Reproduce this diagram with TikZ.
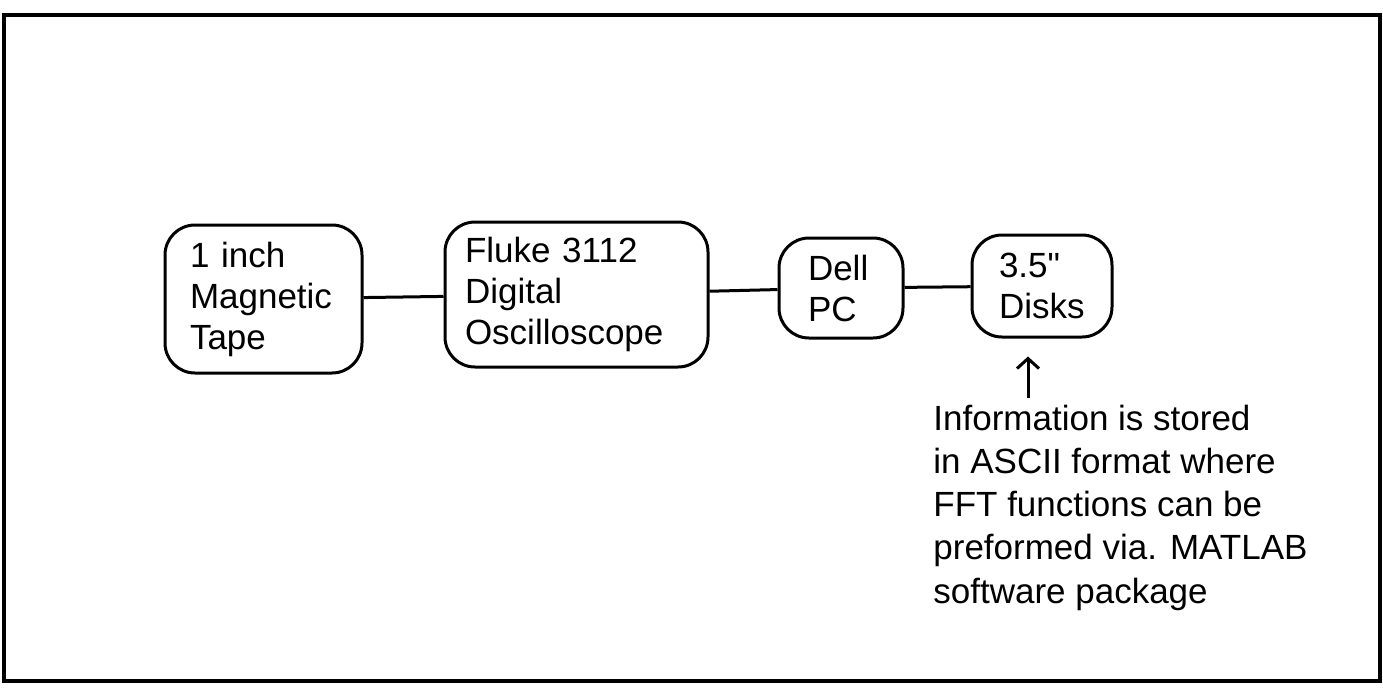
\documentclass[tikz,border=0pt]{standalone}
\usepackage{fontspec}
\setmainfont{Liberation Sans}
\newfontfamily\labelfont{Liberation Sans}
\usetikzlibrary{arrows.meta, positioning}

\begin{document}
\begin{tikzpicture}[
    x=0.5pt, y=-0.5pt,
    every node/.style={font=\labelfont\fontsize{17.5}{20.5}\selectfont},
    unit/.style={
        draw, line width=1.5pt, rounded corners=15pt,
        align=left, inner xsep=12.5pt, inner ysep=4pt
    },
    note/.style={
        align=left, inner sep=0pt, anchor=base west,
        font=\labelfont\fontsize{17.5}{21.6}\selectfont
    },
    link/.style={line width=1.5pt},
    pointer/.style={-{Straight Barb[length=5pt,width=11pt]}, line width=1.5pt, shorten >=9pt}
]
    \useasboundingbox (0,0) rectangle (1383,687);
    \draw[line width=1.8pt] (4,15) rectangle (1380,681);

    \node[unit, text width=73.5pt, minimum height=74pt] (tape) at (263.5,299) {1 inch\\Magnetic\\Tape};
    \node[unit, text width=111.5pt, inner xsep=10pt, minimum height=72.5pt,
        right=40pt of tape, yshift=2.25pt] (fluke) {Fluke 3112\\Digital\\Oscilloscope};
    \node[unit, text width=33pt, inner xsep=14.5pt, minimum height=50pt,
        right=34pt of fluke, yshift=3.25pt] (dell) {Dell\\PC};
    \node[unit, text width=43pt, inner xsep=13.5pt, minimum height=51pt,
        right=33pt of dell, yshift=1pt] (disks) {3.5"\\Disks};

    \node[note] (info) at (933,603) {Information is stored\\in ASCII format where\\FFT functions can be\\preformed via. MATLAB\\software package};
    \coordinate (tail) at (1028,398);

    \draw[link] (tape) -- (fluke);
    \draw[link] (fluke) -- (dell);
    \draw[link] (dell) -- (disks);
    \draw[pointer] (tail) -- (tail |- disks.south);
\end{tikzpicture}
\end{document}
